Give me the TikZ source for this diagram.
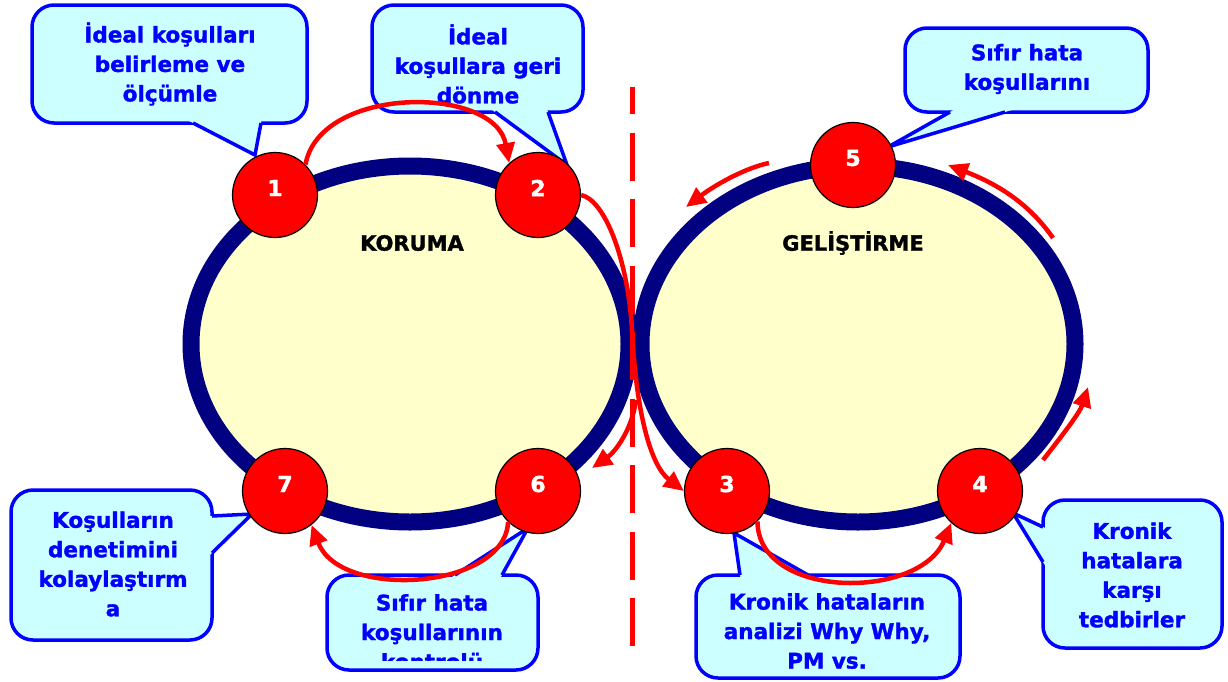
\documentclass[tikz,border=0pt]{standalone}
\usepackage{fontspec}
\setmainfont{DejaVu Sans}[BoldFeatures={FakeBold=1.5}]
\usetikzlibrary{arrows.meta,calc}
\definecolor{navy}{HTML}{000080}
\definecolor{cyanfill}{HTML}{CCFFFF}
\definecolor{ylw}{HTML}{FFFFCC}
\definecolor{bblue}{HTML}{0000FF}
\definecolor{rred}{HTML}{FF0000}
\newcommand\drawcallout[1]{%
  \path[cbox] (#1a) rectangle (#1b);
  \fill[cyanfill] (#1t) -- ($(#1t)!1.25!(#1p)$) -- ($(#1t)!1.25!(#1q)$) -- cycle;
  \draw[cline] (#1p) -- (#1t) -- (#1q);
}
\begin{document}
\begin{tikzpicture}[x=1pt,y=-1pt,
  ring/.style={draw=navy,line width=17pt,fill=ylw},
  stepnode/.style={circle,draw=black,line width=1.2pt,fill=rred,minimum size=85pt,inner sep=0pt},
  num/.style={text=white,font=\fontsize{22}{26}\selectfont\bfseries,inner sep=0pt},
  title/.style={font=\fontsize{21}{25}\selectfont\bfseries,inner sep=0pt},
  cbox/.style={draw=bblue,line width=3.5pt,fill=cyanfill,rounded corners=22pt},
  cline/.style={draw=bblue,line width=3.5pt,line join=miter},
  ctext/.style={text=bblue,align=center,font=\fontsize{21.5}{29.5}\selectfont\bfseries,inner sep=0pt},
  flow/.style={draw=rred,line width=4.5pt,-{Triangle[length=20pt,width=18pt]}},
  divider/.style={draw=rred,line width=5pt,dash pattern=on 48pt off 18.5pt,dash phase=21pt}
]
\useasboundingbox (0,0) rectangle (1228,681);

% rings
\path[ring] (410,344) ellipse [x radius=219pt, y radius=178pt];
\path[ring] (858,344) ellipse [x radius=217pt, y radius=178pt];

% divider
\coordinate (dtop) at (632,87);
\coordinate (dbot) at (632,647);
\draw[divider] (dtop) -- (dbot);

% callouts
\coordinate (k1a) at (32,5);    \coordinate (k1b) at (307,123);
\coordinate (k1p) at (193,123); \coordinate (k1q) at (261,123); \coordinate (k1t) at (255,155);
\coordinate (k2a) at (372,5);   \coordinate (k2b) at (583,112);
\coordinate (k2p) at (495,112); \coordinate (k2q) at (548,112); \coordinate (k2t) at (567,165);
\coordinate (k3a) at (905,28);  \coordinate (k3b) at (1148,112);
\coordinate (k3p) at (950,112); \coordinate (k3q) at (1005,112); \coordinate (k3t) at (888,147);
\coordinate (k4a) at (11,490);  \coordinate (k4b) at (212,640);
\coordinate (k4p) at (212,516); \coordinate (k4q) at (212,553); \coordinate (k4t) at (252,514);
\coordinate (k5a) at (327,575); \coordinate (k5b) at (538,670);
\coordinate (k5p) at (455,575); \coordinate (k5q) at (502,575); \coordinate (k5t) at (528,528);
\coordinate (k6a) at (696,575); \coordinate (k6b) at (960,678);
\coordinate (k6p) at (740,575); \coordinate (k6q) at (808,575); \coordinate (k6t) at (734,533);
\coordinate (k7a) at (1043,500); \coordinate (k7b) at (1222,648);
\coordinate (k7p) at (1043,527); \coordinate (k7q) at (1043,562); \coordinate (k7t) at (1013,513);
\drawcallout{k1}
\drawcallout{k2}
\drawcallout{k3}
\drawcallout{k4}
\drawcallout{k5}
\drawcallout{k6}
\drawcallout{k7}

\node[ctext] (t1) at (170,64) {İdeal koşulları\\belirleme ve\\ölçümle};
\node[ctext] (t2) at (478,64) {İdeal\\koşullara geri\\dönme};
\node[ctext] (t3) at (1027,69) {Sıfır hata\\koşullarını};
\node[ctext] (t4) at (113,564) {Koşulların\\denetimini\\kolaylaştırm\\a};
\begin{scope}
  \clip (327,575) rectangle (538,660);
  \node[ctext] (t5) at (432,632) {Sıfır hata\\koşullarının\\kontrolü};
\end{scope}
\node[ctext] (t6) at (827,631) {Kronik hataların\\analizi Why Why,\\PM vs.};
\node[ctext] (t7) at (1132,575) {Kronik\\hatalara\\karşı\\tedbirler};

% step circles
\node[stepnode] (c1) at (275,195) {};
\node[stepnode] (c2) at (538,195) {};
\node[stepnode] (c5) at (853,165) {};
\node[stepnode] (c7) at (285,491) {};
\node[stepnode] (c6) at (538,491) {};
\node[stepnode] (c3) at (727,491) {};
\node[stepnode] (c4) at (980,491) {};

% flow arrows
\draw[flow] (c1.45) .. controls (320,85) and (495,85) .. (c2.132);
\draw[flow] (c2.0) .. controls (605,200) and (628,260) .. (632,330) .. controls (636,410) and (650,465) .. (c3.180);
\coordinate (s6) at (636,400); \coordinate (e6) at (592,468);
\draw[flow] (s6) .. controls (632,430) and (615,452) .. (e6);
\draw[flow] (c6.-134) .. controls (505,590) and (340,600) .. (c7.-52);
\draw[flow] (c3.-45) .. controls (758,600) and (920,600) .. (c4.-132);
\coordinate (s4) at (1043,460); \coordinate (e4) at (1088,387);
\draw[flow] (s4) .. controls (1065,432) and (1080,412) .. (e4);
\coordinate (s5) at (1053,238); \coordinate (e5) at (948,165);
\draw[flow] (s5) .. controls (1030,205) and (1000,185) .. (e5);
\coordinate (s8) at (769,163); \coordinate (e8) at (686,207);
\draw[flow] (s8) .. controls (745,168) and (715,185) .. (e8);

% numbers
\node[num,yshift=7pt] (n1) at (c1) {1};
\node[num,yshift=7pt] (n2) at (c2) {2};
\node[num,yshift=7pt] (n3) at (c3) {3};
\node[num,yshift=7pt] (n4) at (c4) {4};
\node[num,yshift=7pt] (n5) at (c5) {5};
\node[num,yshift=7pt] (n6) at (c6) {6};
\node[num,yshift=7pt] (n7) at (c7) {7};

% titles
\node[title] (kor) at (412,243) {KORUMA};
\node[title] (gel) at (853,243) {GELİŞTİRME};
\end{tikzpicture}
\end{document}
